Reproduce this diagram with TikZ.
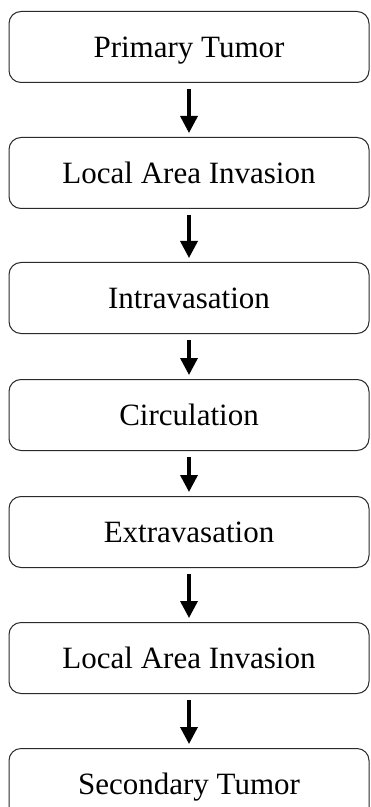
\documentclass[tikz,border=0pt]{standalone}
\usepackage{fontspec}
\setmainfont{Liberation Serif}
\usepackage{tikz}
\usetikzlibrary{arrows.meta,positioning}
\usepackage{xcolor}
\definecolor{edge}{HTML}{2A2A2A}

\begin{document}
\begin{tikzpicture}[
  node distance=27pt,
  stage/.style={draw=edge, line width=0.5pt, rounded corners=6pt, minimum width=180pt, minimum height=35.5pt, text height=10.3pt, text depth=0pt, inner sep=0pt, align=center, font=\fontsize{15.5}{18}\selectfont},
  arrow/.style={-{Triangle[length=8.5pt, width=8.5pt]}, line width=1.75pt, shorten <=2.8pt, shorten >=2pt}
]
\clip (0,0) rectangle (185pt,-403.5pt);
\node[stage] (prim) at (94.5pt,-23.5pt) {Primary Tumor};
\node[stage, below=of prim] (inv1) {Local Area Invasion};
\node[stage, below=26.5pt of inv1] (intra) {Intravasation};
\node[stage, below=22.5pt of intra] (circ) {Circulation};
\node[stage, below=22.5pt of circ] (extra) {Extravasation};
\node[stage, below=of extra] (inv2) {Local Area Invasion};
\node[stage, below=of inv2] (sec) {Secondary Tumor};

\draw[arrow] (prim) -- (inv1);
\draw[arrow] (inv1) -- (intra);
\draw[arrow] (intra) -- (circ);
\draw[arrow] (circ) -- (extra);
\draw[arrow] (extra) -- (inv2);
\draw[arrow] (inv2) -- (sec);
\end{tikzpicture}
\end{document}
